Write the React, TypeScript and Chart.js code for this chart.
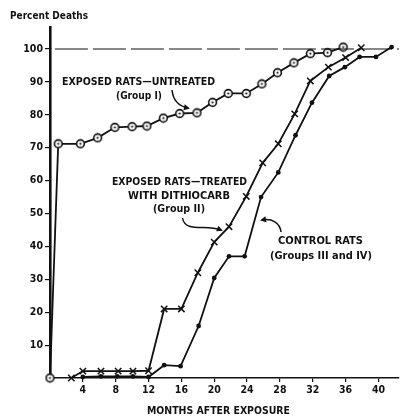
import React, { useEffect, useRef } from 'react';
import { Chart, registerables } from 'chart.js';

Chart.register(...registerables);

// Group I — exposed rats, untreated (ringed circles)
const groupIMonths = [0, 1, 3.7, 5.8, 7.9, 10, 11.8, 13.8, 15.8, 17.9, 19.8, 21.7, 23.9, 25.8, 27.7, 29.7, 31.7, 33.8, 35.7];
const groupIValues = [0, 71.2, 71.2, 73, 76.2, 76.4, 76.6, 79, 80.4, 80.6, 83.8, 86.5, 86.5, 89.4, 92.8, 95.8, 98.6, 98.9, 100.6];

// Group II — exposed rats treated with dithiocarb (x marks)
const groupIIMonths = [2.6, 4, 6.2, 8.3, 10.1, 12, 13.9, 16, 18, 20, 21.8, 23.9, 25.9, 27.8, 29.8, 31.7, 33.9, 36, 37.9];
const groupIIValues = [0, 2.1, 2.1, 2.1, 2.1, 2.2, 21, 21, 32, 41.3, 46, 55.2, 65.4, 71.2, 80.3, 90.3, 94.5, 97.4, 100.4];

// Control rats — groups III and IV (filled dots)
const controlMonths = [4, 6.2, 8.2, 10.1, 12, 13.9, 15.9, 18.1, 20, 21.8, 23.7, 25.7, 27.8, 29.9, 31.9, 34, 35.9, 37.7, 39.7, 41.6];
const controlValues = [0.3, 0.5, 0.5, 0.5, 0.3, 3.9, 3.6, 15.8, 30.4, 37, 37, 55, 62.5, 73.8, 83.7, 91.8, 94.5, 97.6, 97.6, 100.6];

// 100% reference line
const refMonths = [0.6, 42.5];
const refValues = [100, 100];

const xTickValues = [4, 8, 12, 16, 20, 24, 28, 32, 36, 40];
const yTickValues = [10, 20, 30, 40, 50, 60, 70, 80, 90, 100];

const yAxisTitle = 'Percent Deaths';
const xAxisTitle = 'MONTHS AFTER EXPOSURE';
const labelGroupI = ['EXPOSED RATS\u2014UNTREATED', '(Group I)'];
const labelGroupII = ['EXPOSED RATS\u2014TREATED', 'WITH DITHIOCARB', '(Group II)'];
const labelControl = ['CONTROL RATS', '(Groups III and IV)'];

const INK = '#111';
const FONT = '"Liberation Sans Narrow", "DejaVu Sans Condensed", "Liberation Sans", Arial, sans-serif';

function pts(xs: number[], ys: number[]) {
  return xs.map((x, i) => ({ x, y: ys[i] }));
}

function makeRing(): HTMLCanvasElement {
  const c = document.createElement('canvas');
  c.width = 11;
  c.height = 11;
  const g = c.getContext('2d')!;
  g.beginPath();
  g.arc(5.5, 5.5, 3.9, 0, Math.PI * 2);
  g.fillStyle = '#fff';
  g.fill();
  g.lineWidth = 1.6;
  g.strokeStyle = INK;
  g.stroke();
  g.beginPath();
  g.arc(5.5, 5.5, 1.1, 0, Math.PI * 2);
  g.fillStyle = INK;
  g.fill();
  return c;
}

function fitText(ctx: CanvasRenderingContext2D, text: string, left: number, cy: number, width: number, size: number) {
  ctx.save();
  ctx.font = `bold ${size}px ${FONT}`;
  ctx.textBaseline = 'middle';
  ctx.textAlign = 'left';
  const w = ctx.measureText(text).width;
  const s = width / w;
  ctx.translate(left, cy);
  ctx.scale(s, 1);
  ctx.fillText(text, 0, 0);
  ctx.restore();
}

function arrow(ctx: CanvasRenderingContext2D, p: number[]) {
  ctx.save();
  ctx.strokeStyle = INK;
  ctx.fillStyle = INK;
  ctx.lineWidth = 1.5;
  ctx.beginPath();
  ctx.moveTo(p[0], p[1]);
  ctx.bezierCurveTo(p[2], p[3], p[4], p[5], p[6], p[7]);
  ctx.stroke();
  const ang = Math.atan2(p[7] - p[5], p[6] - p[4]);
  const L = 6, W = 3;
  const tx = p[6] + Math.cos(ang) * 2, ty = p[7] + Math.sin(ang) * 2;
  ctx.beginPath();
  ctx.moveTo(tx, ty);
  ctx.lineTo(tx - Math.cos(ang) * L - Math.sin(ang) * W, ty - Math.sin(ang) * L + Math.cos(ang) * W);
  ctx.lineTo(tx - Math.cos(ang) * L + Math.sin(ang) * W, ty - Math.sin(ang) * L - Math.cos(ang) * W);
  ctx.closePath();
  ctx.fill();
  ctx.restore();
}

const annotationPlugin = {
  id: 'annotations',
  afterDraw(chart: any) {
    const ctx: CanvasRenderingContext2D = chart.ctx;
    ctx.save();
    ctx.fillStyle = INK;
    fitText(ctx, yAxisTitle, 10, 16.5, 78, 10.5);
    fitText(ctx, xAxisTitle, 147, 411.5, 143, 10.5);

    fitText(ctx, labelGroupI[0], 62, 82, 153, 11);
    fitText(ctx, labelGroupI[1], 116, 96, 46, 11);

    fitText(ctx, labelGroupII[0], 112, 182, 135, 11);
    fitText(ctx, labelGroupII[1], 128, 196, 102, 11);
    fitText(ctx, labelGroupII[2], 153, 209.5, 52, 11);

    fitText(ctx, labelControl[0], 278, 241, 85, 11);
    fitText(ctx, labelControl[1], 270, 256, 102, 11);

    arrow(ctx, [172, 90, 173, 100, 178, 106, 188, 108]);
    arrow(ctx, [182.5, 218, 185, 233, 206, 224, 221, 230]);
    arrow(ctx, [281, 232, 280, 223, 272, 218, 262, 220]);
    ctx.restore();
  },
};

export default function App() {
  const ref = useRef<HTMLCanvasElement | null>(null);

  useEffect(() => {
    if (!ref.current) return;
    const ring = makeRing();
    const tickFont = { family: FONT, size: 10.5, weight: 'bold' as const };
    const chart = new Chart(ref.current, {
      type: 'line',
      data: {
        datasets: [
          {
            label: 'ref',
            data: pts(refMonths, refValues),
            borderColor: INK,
            borderWidth: 1.1,
            borderDash: [33, 5],
            pointRadius: 0,
            fill: false,
            clip: false as any,
          },
          {
            label: 'Group I',
            data: pts(groupIMonths, groupIValues),
            borderColor: INK,
            borderWidth: 1.8,
            pointStyle: ring as any,
            pointRadius: 4,
            fill: false,
            clip: false as any,
          },
          {
            label: 'Group II',
            data: pts(groupIIMonths, groupIIValues),
            borderColor: INK,
            backgroundColor: INK,
            borderWidth: 1.8,
            pointStyle: 'crossRot',
            pointRadius: 4.5,
            pointBorderWidth: 1.5,
            fill: false,
            clip: false as any,
          },
          {
            label: 'Control',
            data: pts(controlMonths, controlValues),
            borderColor: INK,
            backgroundColor: INK,
            borderWidth: 1.8,
            pointStyle: 'circle',
            pointRadius: 2.4,
            pointBorderWidth: 0,
            fill: false,
            clip: false as any,
          },
        ],
      },
      options: {
        animation: false,
        responsive: false,
        devicePixelRatio: 1,
        layout: { padding: { top: 27, right: 2, left: 0, bottom: 0 } },
        plugins: { legend: { display: false }, tooltip: { enabled: false }, title: { display: false } },
        scales: {
          x: {
            type: 'linear',
            min: 0,
            max: 42.5,
            afterFit: (s: any) => {
              s.height = 40;
            },
            afterBuildTicks: (s: any) => {
              s.ticks = [0, ...xTickValues].map((v) => ({ value: v }));
            },
            ticks: {
              autoSkip: false,
              maxRotation: 0,
              padding: 2,
              color: INK,
              font: tickFont,
              callback: (v: any) => (xTickValues.includes(Number(v)) ? String(v) : ''),
            },
            grid: { display: true, drawOnChartArea: false, drawTicks: true, tickLength: 4, color: INK, lineWidth: 1.2 },
            border: { display: true, color: INK, width: 1.5 },
          },
          y: {
            type: 'linear',
            min: 0,
            max: 106.7,
            afterFit: (s: any) => {
              s.width = 50;
            },
            afterBuildTicks: (s: any) => {
              s.ticks = yTickValues.map((v) => ({ value: v }));
            },
            ticks: {
              autoSkip: false,
              padding: 2,
              color: INK,
              font: tickFont,
              callback: (v: any) => (yTickValues.includes(Number(v)) ? String(v) : ''),
            },
            grid: { display: true, drawOnChartArea: false, drawTicks: true, tickLength: 5, color: INK, lineWidth: 1.2 },
            border: { display: true, color: INK, width: 2.6 },
          },
        },
      },
      plugins: [annotationPlugin],
    });
    return () => chart.destroy();
  }, []);

  return (
    <div style={{ position: 'fixed', left: 0, top: 0, width: 405, height: 418, background: '#fff' }}>
      <canvas ref={ref} width={405} height={418} style={{ width: 405, height: 418, display: 'block' }} />
    </div>
  );
}
